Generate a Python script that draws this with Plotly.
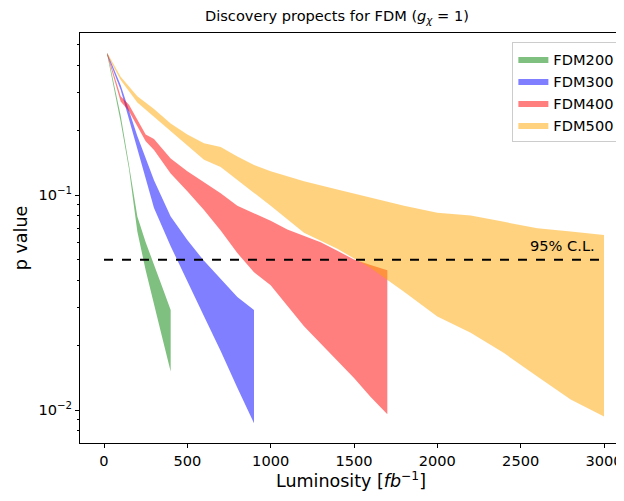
import plotly.graph_objects as go

# ---- data ----
lumi_200 = [20, 100, 150, 200, 250, 300, 350, 400]
p_hi_200 = [0.457, 0.234, 0.138, 0.0794, 0.0603, 0.0468, 0.0372, 0.0292]
p_lo_200 = [0.447, 0.219, 0.132, 0.0676, 0.0447, 0.0309, 0.0216, 0.0151]

lumi_300 = [20, 100, 200, 300, 400, 500, 600, 700, 800, 900]
p_hi_300 = [0.457, 0.324, 0.188, 0.117, 0.0794, 0.0617, 0.0494, 0.0407, 0.0335, 0.0292]
p_lo_300 = [0.447, 0.309, 0.166, 0.0871, 0.0578, 0.0398, 0.0273, 0.0188, 0.0127, 0.00867]

lumi_400 = [20, 100, 150, 200, 250, 300, 400, 500, 600, 700, 800, 900, 1000,
            1100, 1200, 1300, 1400, 1500, 1600, 1700]
p_hi_400 = [0.457, 0.288, 0.263, 0.224, 0.191, 0.182, 0.148, 0.129, 0.115, 0.102,
            0.0891, 0.0822, 0.0759, 0.0692, 0.0646, 0.0603, 0.0550, 0.0501, 0.0473, 0.0447]
p_lo_400 = [0.447, 0.272, 0.245, 0.209, 0.178, 0.162, 0.126, 0.104, 0.0851, 0.0684,
            0.0537, 0.0437, 0.0380, 0.0305, 0.0245, 0.0204, 0.0170, 0.0141, 0.0115, 0.00955]

lumi_500 = [20, 100, 200, 300, 400, 500, 600, 700, 800, 900, 1000, 1200, 1400,
            1600, 1800, 2000, 2200, 2400, 2600, 2800, 3000]
p_hi_500 = [0.457, 0.355, 0.288, 0.251, 0.215, 0.191, 0.174, 0.167, 0.151, 0.138,
            0.129, 0.116, 0.106, 0.0973, 0.0891, 0.0826, 0.0802, 0.0750, 0.0700, 0.0676, 0.0652]
p_lo_500 = [0.447, 0.343, 0.269, 0.229, 0.197, 0.170, 0.146, 0.135, 0.117, 0.102,
            0.0891, 0.0668, 0.0562, 0.0457, 0.0355, 0.0272, 0.0229, 0.0184, 0.0143, 0.0112, 0.00933]

series_names = ["FDM200", "FDM300", "FDM400", "FDM500"]
cl_level = 0.05
cl_lumi = [0, 3000]
x_ticks = [0, 500, 1000, 1500, 2000, 2500, 3000]
y_ticks = [0.01, 0.1]
y_ticktext = ["10<sup>−2</sup>", "10<sup>−1</sup>"]
y_minor = [0.008, 0.009, 0.02, 0.03, 0.04, 0.05, 0.06, 0.07, 0.08, 0.09,
           0.2, 0.3, 0.4, 0.5]

colors = ["rgba(0,128,0,0.5)", "rgba(0,0,255,0.5)",
          "rgba(255,0,0,0.5)", "rgba(255,165,0,0.5)"]

bands = [(lumi_200, p_hi_200, p_lo_200), (lumi_300, p_hi_300, p_lo_300),
         (lumi_400, p_hi_400, p_lo_400), (lumi_500, p_hi_500, p_lo_500)]

FONT = "DejaVu Sans"
BASE = 14.6
fig = go.Figure()
for name, col, (xs, hi, lo) in zip(series_names, colors, bands):
    fig.add_trace(go.Scatter(
        x=list(xs) + list(xs)[::-1],
        y=list(hi) + list(lo)[::-1],
        fill="toself", fillcolor=col, mode="lines",
        line=dict(width=0, color=col), name=name, hoverinfo="skip"))

fig.add_trace(go.Scatter(x=cl_lumi, y=[cl_level, cl_level], mode="lines",
                         line=dict(color="black", width=2, dash="dash"),
                         showlegend=False))

fig.add_annotation(x=2960, y=-1.302, xref="x", yref="y", text="95% C.L.",
                   showarrow=False, xanchor="right", yanchor="bottom", yshift=4,
                   font=dict(family=FONT, size=BASE, color="black"))

# the page body adds an 8px margin, so the figure is made 8px smaller
fig.update_layout(
    width=616, height=493,
    margin=dict(l=72, r=2, t=25, b=58),
    plot_bgcolor="white", paper_bgcolor="white",
    font=dict(family=FONT, size=BASE, color="black"),
    title=dict(text="Discovery propects for FDM (<i>g</i><sub><i>χ</i></sub> = 1)",
               x=0.534, xanchor="center", y=0.984, yanchor="middle",
               font=dict(family=FONT, size=BASE)),
    legend=dict(x=0.997, y=0.978, xanchor="right", yanchor="top",
                bgcolor="rgba(255,255,255,0.8)", bordercolor="#cccccc", borderwidth=1,
                font=dict(family=FONT, size=BASE)),
    xaxis=dict(range=[-144, 3108], tickvals=x_ticks, showgrid=False, zeroline=False,
               showline=True, linecolor="black", linewidth=1, mirror=True,
               ticks="outside", ticklen=4, tickcolor="black",
               tickfont=dict(family=FONT, size=BASE),
               title=dict(text="Luminosity [<i>fb</i><sup>−1</sup>]",
                          font=dict(family=FONT, size=17.5), standoff=5)),
    yaxis=dict(type="log", range=[-2.1535, -0.2465], tickvals=y_ticks,
               ticktext=y_ticktext, showgrid=False, zeroline=False,
               showline=True, linecolor="black", linewidth=1, mirror=True,
               ticks="outside", ticklen=4, tickcolor="black",
               tickfont=dict(family=FONT, size=BASE),
               minor=dict(tickvals=y_minor, ticks="outside", ticklen=2,
                          tickcolor="black", showgrid=False),
               title=dict(text="p value", font=dict(family=FONT, size=17.5), standoff=6)),
)

fig.write_html("out.html")
